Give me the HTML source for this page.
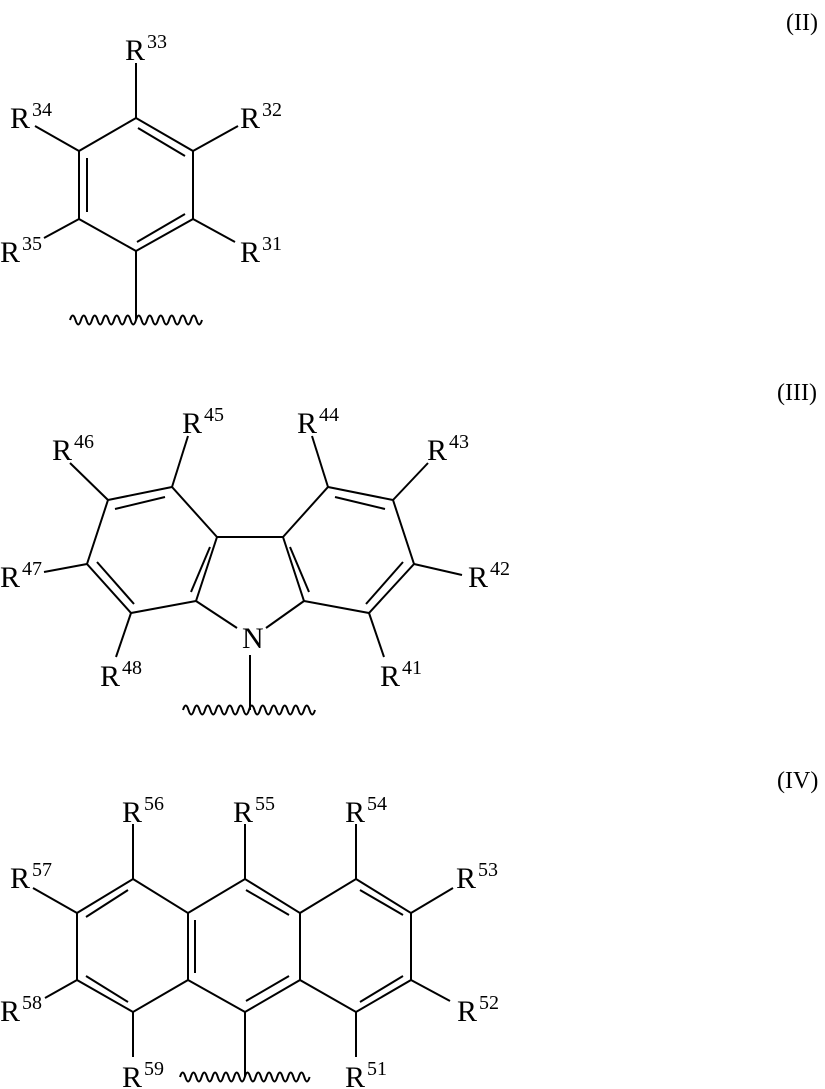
<!DOCTYPE html>
<html><head><meta charset="utf-8"><style>
html,body{margin:0;padding:0;background:#fff;}
svg{display:block}
text{font-family:"Liberation Serif",serif;fill:#000}
.R{font-size:30px}
.s{font-size:20px}
.lab{font-size:24px}
</style></head><body>
<svg width="825" height="1089" viewBox="0 0 825 1089" xmlns="http://www.w3.org/2000/svg">
<g stroke="#000" stroke-width="2" fill="none" stroke-linecap="butt">
<!-- II -->
<polygon points="136,118 193,151 193,219 136,251 79,219 79,151"/>
<line x1="138" y1="128" x2="185" y2="156"/>
<line x1="87" y1="158" x2="87" y2="212"/>
<line x1="137" y1="242" x2="185" y2="214"/>
<line x1="136" y1="118" x2="136" y2="63"/>
<line x1="193" y1="151" x2="238" y2="126"/>
<line x1="79" y1="151" x2="35" y2="126"/>
<line x1="79" y1="219" x2="44" y2="238"/>
<line x1="193" y1="219" x2="235" y2="242"/>
<line x1="136" y1="251" x2="136" y2="320"/>
<path d="M70 320 q2.75 -9 5.5 0 t5.5 0 t5.5 0 t5.5 0 t5.5 0 t5.5 0 t5.5 0 t5.5 0 t5.5 0 t5.5 0 t5.5 0 t5.5 0 t5.5 0 t5.5 0 t5.5 0 t5.5 0 t5.5 0 t5.5 0 t5.5 0 t5.5 0 t5.5 0 t5.5 0 t5.5 0 t5.5 0"/>
<!-- III -->
<polyline points="217,537 172,487 108,500 87,564 131,613 196,601 217,537 283,537 304,601 369,613 414,564 393,500 328,487 283,537"/>
<line x1="115" y1="509" x2="165" y2="497"/>
<line x1="97" y1="562" x2="134" y2="604"/>
<line x1="210" y1="547" x2="191" y2="592"/>
<line x1="335" y1="497" x2="385" y2="509"/>
<line x1="403" y1="562" x2="366" y2="604"/>
<line x1="290" y1="547" x2="309" y2="592"/>
<line x1="196" y1="601" x2="237" y2="628"/>
<line x1="304" y1="601" x2="266" y2="628"/>
<line x1="250" y1="655" x2="250" y2="710"/>
<line x1="172" y1="487" x2="188" y2="436"/>
<line x1="328" y1="487" x2="312" y2="436"/>
<line x1="108" y1="500" x2="70" y2="463"/>
<line x1="393" y1="500" x2="428" y2="463"/>
<line x1="87" y1="564" x2="44" y2="572"/>
<line x1="414" y1="564" x2="462" y2="575"/>
<line x1="131" y1="613" x2="116" y2="657"/>
<line x1="369" y1="613" x2="384" y2="657"/>
<path d="M183 710 q2.75 -9 5.5 0 t5.5 0 t5.5 0 t5.5 0 t5.5 0 t5.5 0 t5.5 0 t5.5 0 t5.5 0 t5.5 0 t5.5 0 t5.5 0 t5.5 0 t5.5 0 t5.5 0 t5.5 0 t5.5 0 t5.5 0 t5.5 0 t5.5 0 t5.5 0 t5.5 0 t5.5 0 t5.5 0"/>
<!-- IV -->
<polygon points="133,879 188,913 188,980 133,1012 77,980 77,913"/>
<polyline points="188,913 245,879 300,913 300,980 245,1012 188,980"/>
<polygon points="356,879 411,913 411,980 356,1012 300,980 300,913"/>
<line x1="86" y1="917" x2="128" y2="890"/>
<line x1="86" y1="976" x2="128" y2="1002"/>
<line x1="195" y1="920" x2="195" y2="973"/>
<line x1="246" y1="890" x2="289" y2="915"/>
<line x1="246" y1="1001" x2="289" y2="976"/>
<line x1="360" y1="890" x2="403" y2="915"/>
<line x1="403" y1="976" x2="360" y2="1002"/>
<line x1="133" y1="879" x2="133" y2="824"/>
<line x1="245" y1="879" x2="245" y2="824"/>
<line x1="356" y1="879" x2="356" y2="824"/>
<line x1="77" y1="913" x2="33" y2="888"/>
<line x1="411" y1="913" x2="453" y2="888"/>
<line x1="77" y1="980" x2="45" y2="998"/>
<line x1="411" y1="980" x2="450" y2="1001"/>
<line x1="133" y1="1012" x2="133" y2="1057"/>
<line x1="356" y1="1012" x2="356" y2="1057"/>
<line x1="245" y1="1012" x2="245" y2="1077"/>
<path d="M180 1077 q2.7 -9 5.4 0 t5.4 0 t5.4 0 t5.4 0 t5.4 0 t5.4 0 t5.4 0 t5.4 0 t5.4 0 t5.4 0 t5.4 0 t5.4 0 t5.4 0 t5.4 0 t5.4 0 t5.4 0 t5.4 0 t5.4 0 t5.4 0 t5.4 0 t5.4 0 t5.4 0 t5.4 0 t5.4 0"/>
</g>
<text class="lab" x="786" y="30">(II)</text>
<text class="lab" x="777" y="400">(III)</text>
<text class="lab" x="777" y="788">(IV)</text>
<!-- II labels -->
<text x="125" y="60"><tspan class="R">R</tspan><tspan class="s" dx="2" dy="-12">33</tspan></text>
<text x="10" y="128"><tspan class="R">R</tspan><tspan class="s" dx="2" dy="-12">34</tspan></text>
<text x="240" y="128"><tspan class="R">R</tspan><tspan class="s" dx="2" dy="-12">32</tspan></text>
<text x="0" y="262"><tspan class="R">R</tspan><tspan class="s" dx="2" dy="-12">35</tspan></text>
<text x="240" y="262"><tspan class="R">R</tspan><tspan class="s" dx="2" dy="-12">31</tspan></text>
<!-- III labels -->
<text class="R" x="242" y="648">N</text>
<text x="182" y="433"><tspan class="R">R</tspan><tspan class="s" dx="2" dy="-12">45</tspan></text>
<text x="297" y="433"><tspan class="R">R</tspan><tspan class="s" dx="2" dy="-12">44</tspan></text>
<text x="52" y="460"><tspan class="R">R</tspan><tspan class="s" dx="2" dy="-12">46</tspan></text>
<text x="427" y="460"><tspan class="R">R</tspan><tspan class="s" dx="2" dy="-12">43</tspan></text>
<text x="0" y="587"><tspan class="R">R</tspan><tspan class="s" dx="2" dy="-12">47</tspan></text>
<text x="468" y="587"><tspan class="R">R</tspan><tspan class="s" dx="2" dy="-12">42</tspan></text>
<text x="100" y="686"><tspan class="R">R</tspan><tspan class="s" dx="2" dy="-12">48</tspan></text>
<text x="380" y="686"><tspan class="R">R</tspan><tspan class="s" dx="2" dy="-12">41</tspan></text>
<!-- IV labels -->
<text x="122" y="822"><tspan class="R">R</tspan><tspan class="s" dx="2" dy="-12">56</tspan></text>
<text x="233" y="822"><tspan class="R">R</tspan><tspan class="s" dx="2" dy="-12">55</tspan></text>
<text x="345" y="822"><tspan class="R">R</tspan><tspan class="s" dx="2" dy="-12">54</tspan></text>
<text x="10" y="888"><tspan class="R">R</tspan><tspan class="s" dx="2" dy="-12">57</tspan></text>
<text x="456" y="888"><tspan class="R">R</tspan><tspan class="s" dx="2" dy="-12">53</tspan></text>
<text x="0" y="1021"><tspan class="R">R</tspan><tspan class="s" dx="2" dy="-12">58</tspan></text>
<text x="457" y="1021"><tspan class="R">R</tspan><tspan class="s" dx="2" dy="-12">52</tspan></text>
<text x="122" y="1087"><tspan class="R">R</tspan><tspan class="s" dx="2" dy="-12">59</tspan></text>
<text x="345" y="1087"><tspan class="R">R</tspan><tspan class="s" dx="2" dy="-12">51</tspan></text>
</svg>
</body></html>
